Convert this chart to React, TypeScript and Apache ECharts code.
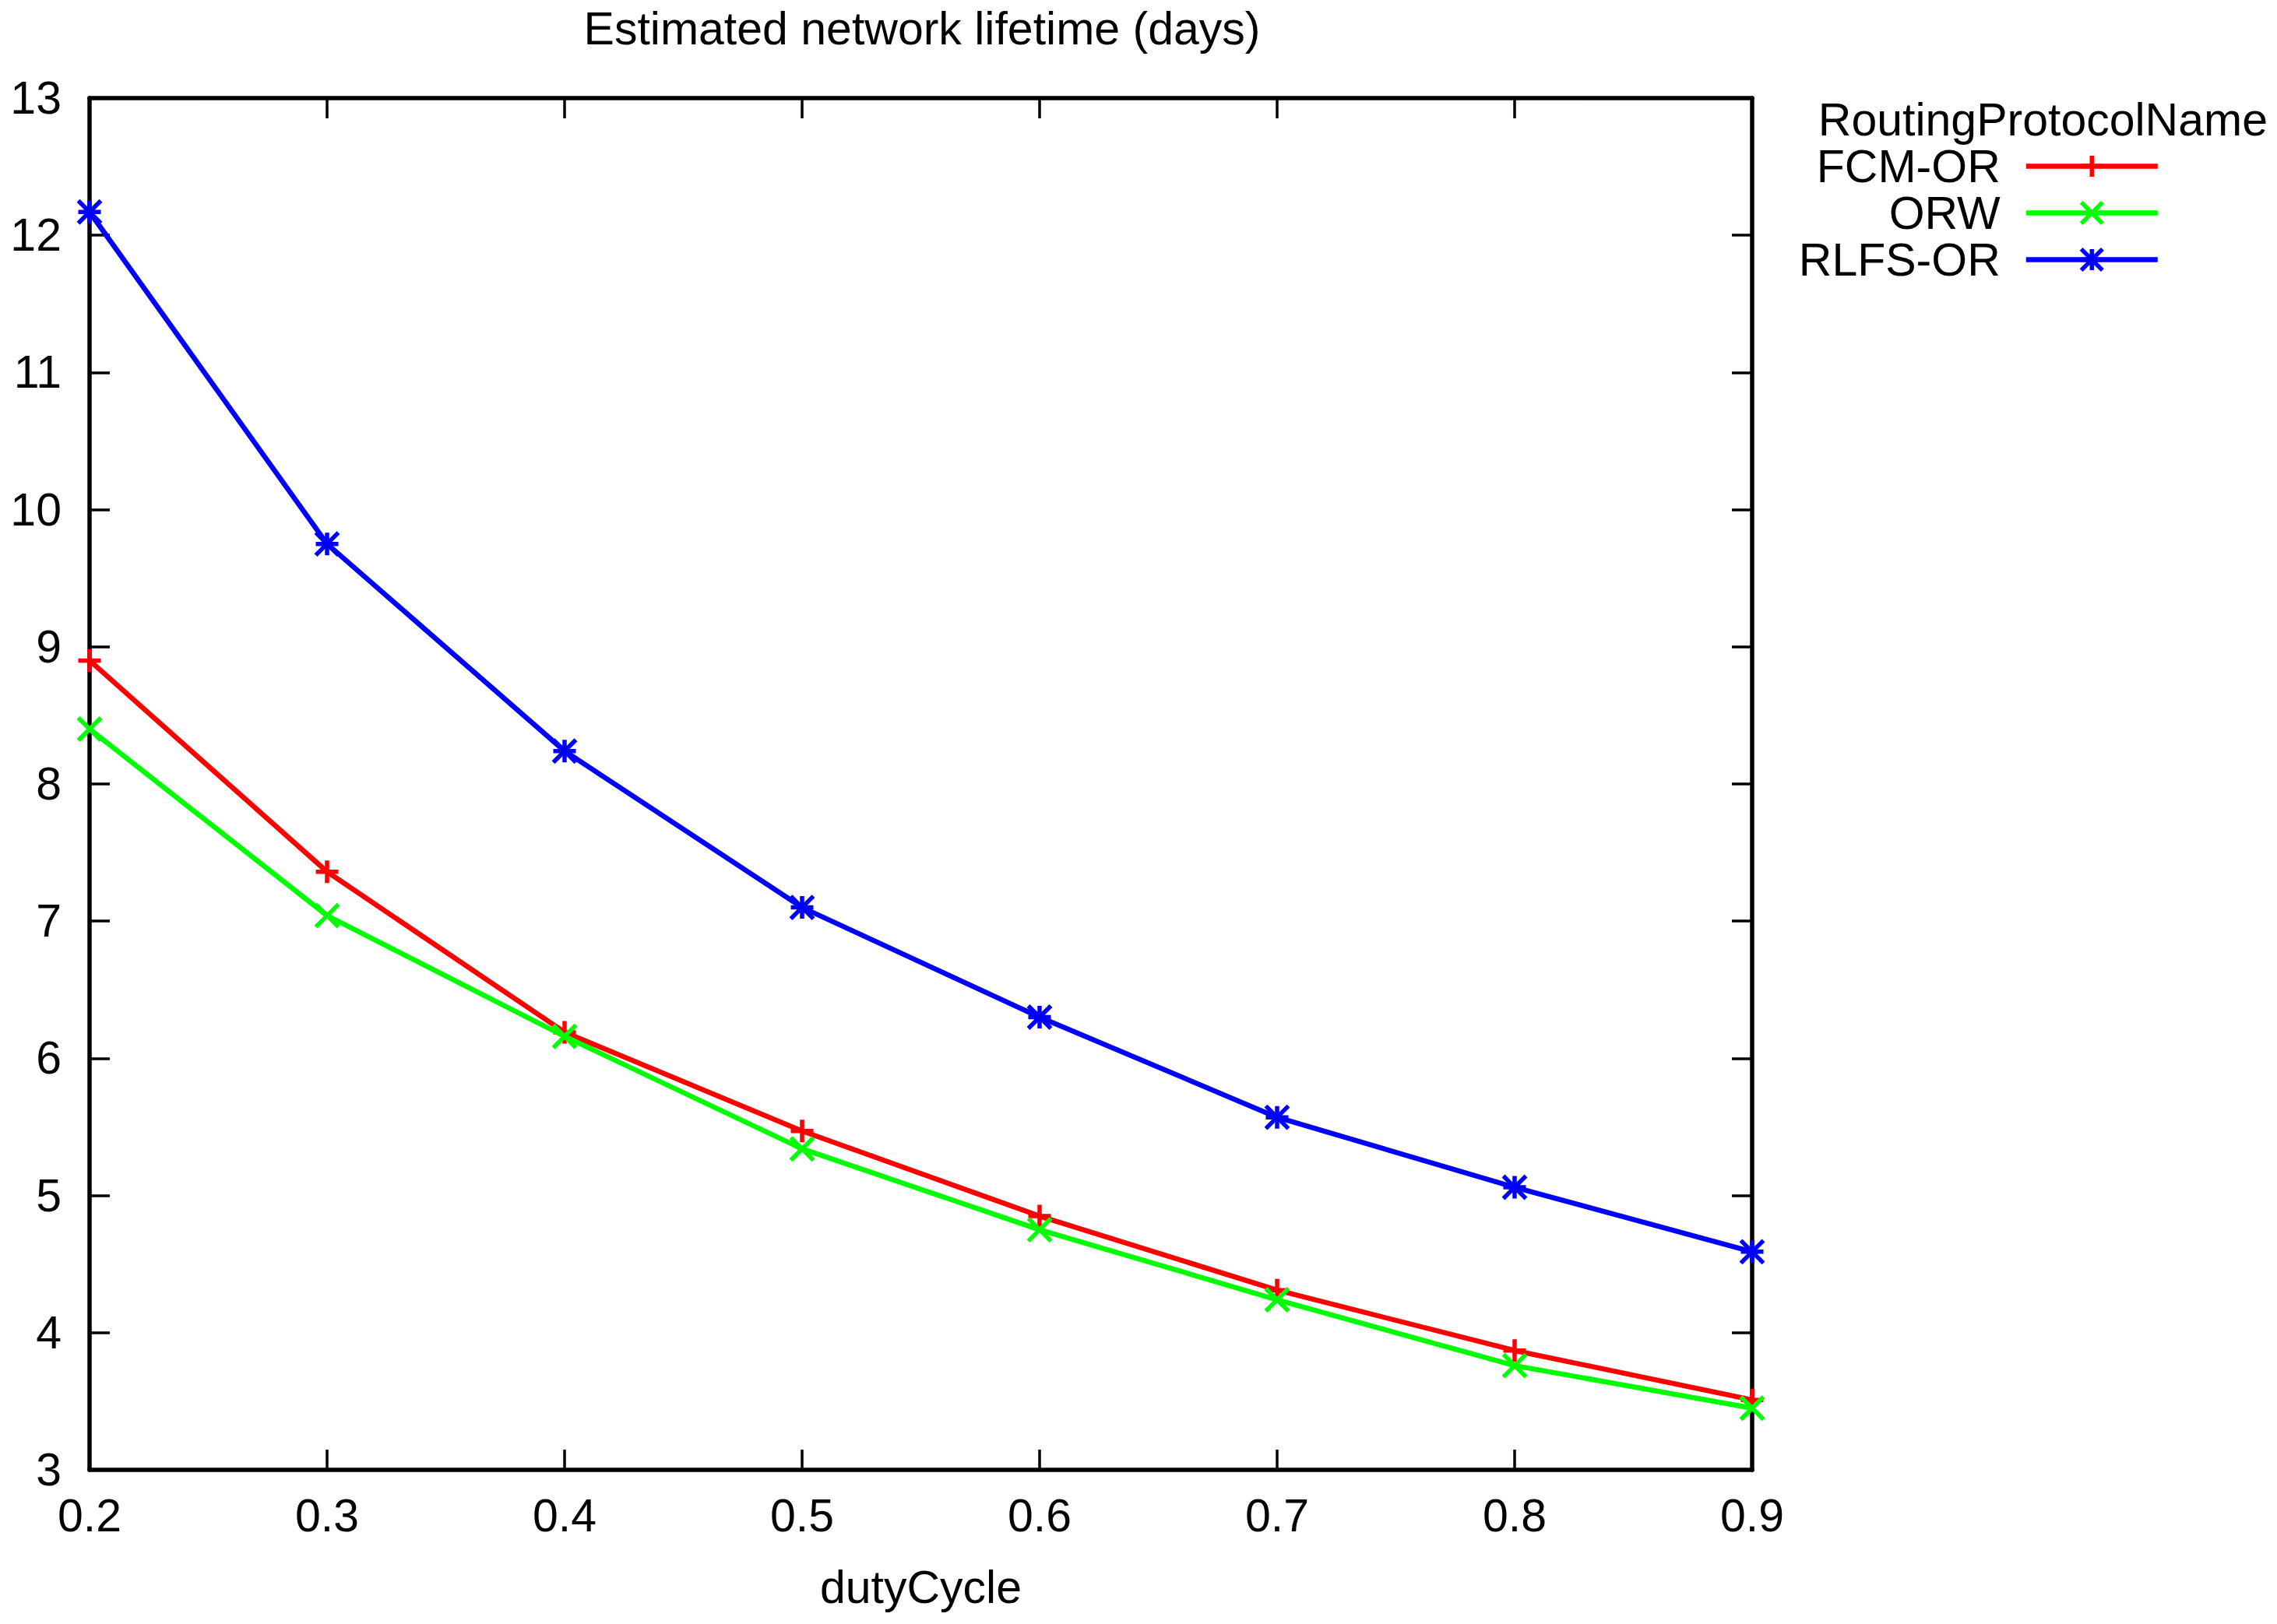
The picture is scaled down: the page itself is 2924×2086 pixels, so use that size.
import React, { useEffect, useRef } from "react";
import * as echarts from "echarts";

const dutyCycle = [0.2, 0.3, 0.4, 0.5, 0.6, 0.7, 0.8, 0.9];
const fcmOr = [8.9, 7.36, 6.19, 5.47, 4.85, 4.31, 3.87, 3.51];
const orw = [8.4, 7.04, 6.16, 5.34, 4.75, 4.24, 3.76, 3.45];
const rlfsOr = [12.17, 9.75, 8.24, 7.1, 6.3, 5.57, 5.06, 4.59];
const seriesNames = ["FCM-OR", "ORW", "RLFS-OR"];
const seriesColors = ["#ff0000", "#00ff00", "#0000ff"];
const seriesSymbols = [
  "path://M-1,0L1,0M0,-1L0,1",
  "path://M-1,-1L1,1M-1,1L1,-1",
  "path://M-1,0L1,0M0,-1L0,1M-1,-1L1,1M-1,1L1,-1",
];
const titleText = "Estimated network lifetime (days)";
const legendTitle = "RoutingProtocolName";
const xName = "dutyCycle";

const FONT = "Liberation Sans, Arial, sans-serif";
const FS = 59;

export default function App() {
  const ref = useRef<HTMLDivElement>(null);
  useEffect(() => {
    if (!ref.current) return;
    const chart = echarts.init(ref.current, undefined, { renderer: "svg" });
    const values = [fcmOr, orw, rlfsOr];
    const legendCenters = [213, 273, 333];
    const axisCommon = {
      type: "value" as const,
      axisLine: { show: true, lineStyle: { color: "#000", width: 5.5 } },
      axisTick: { show: true, inside: true, length: 26, lineStyle: { color: "#000", width: 3.5 } },
      splitLine: { show: false },
    };
    chart.setOption({
      animation: false,
      backgroundColor: "#fff",
      title: [
        {
          text: titleText,
          left: 1184,
          top: 7,
          textAlign: "center",
          padding: 0,
          textStyle: { fontSize: FS, fontWeight: "normal", color: "#000", fontFamily: FONT },
        },
        {
          text: legendTitle,
          right: 12,
          top: 124,
          padding: 0,
          textStyle: { fontSize: FS, fontWeight: "normal", color: "#000", fontFamily: FONT },
        },
      ],
      grid: { left: 115, right: 674, top: 126, bottom: 198, containLabel: false },
      xAxis: [
        {
          ...axisCommon,
          position: "bottom",
          min: 0.2,
          max: 0.9,
          interval: 0.1,
          name: xName,
          nameLocation: "middle",
          nameGap: 121,
          nameTextStyle: { fontSize: FS, color: "#000", fontFamily: FONT },
          axisLabel: {
            show: true,
            margin: 29,
            fontSize: FS,
            color: "#000",
            fontFamily: FONT,
            formatter: (v: number) => v.toFixed(1),
          },
        },
        {
          ...axisCommon,
          position: "top",
          min: 0.2,
          max: 0.9,
          interval: 0.1,
          axisLabel: { show: false },
        },
      ],
      yAxis: [
        {
          ...axisCommon,
          position: "left",
          min: 3,
          max: 13,
          interval: 1,
          axisLabel: { show: true, margin: 36, fontSize: FS, color: "#000", fontFamily: FONT },
        },
        {
          ...axisCommon,
          position: "right",
          min: 3,
          max: 13,
          interval: 1,
          axisLabel: { show: false },
        },
      ],
      legend: seriesNames.map((name, i) => ({
        data: [name],
        orient: "vertical",
        right: 150,
        top: legendCenters[i] - 29,
        padding: 0,
        align: "right",
        itemWidth: 169,
        itemHeight: 34,
        selectedMode: false,
        itemStyle: { borderWidth: 5.5, borderColor: seriesColors[i], color: seriesColors[i] },
        lineStyle: { width: 6.5, color: seriesColors[i] },
        textStyle: {
          fontSize: FS,
          color: "#000",
          fontFamily: FONT,
          lineHeight: 58,
          padding: [0, 28, 0, 0],
        },
      })),
      series: seriesNames.map((name, i) => ({
        name,
        type: "line",
        xAxisIndex: 0,
        yAxisIndex: 0,
        data: dutyCycle.map((x, j) => [x, values[i][j]]),
        symbol: seriesSymbols[i],
        symbolSize: 29,
        showSymbol: true,
        clip: false,
        lineStyle: { color: seriesColors[i], width: 6.5 },
        itemStyle: { color: seriesColors[i], borderColor: seriesColors[i], borderWidth: 5.5 },
        emphasis: { disabled: true },
        z: 2 + i,
      })),
    });
    return () => chart.dispose();
  }, []);
  return (
    <div
      ref={ref}
      style={{ position: "fixed", left: 0, top: 0, width: 2924, height: 2086, background: "#fff" }}
    />
  );
}
